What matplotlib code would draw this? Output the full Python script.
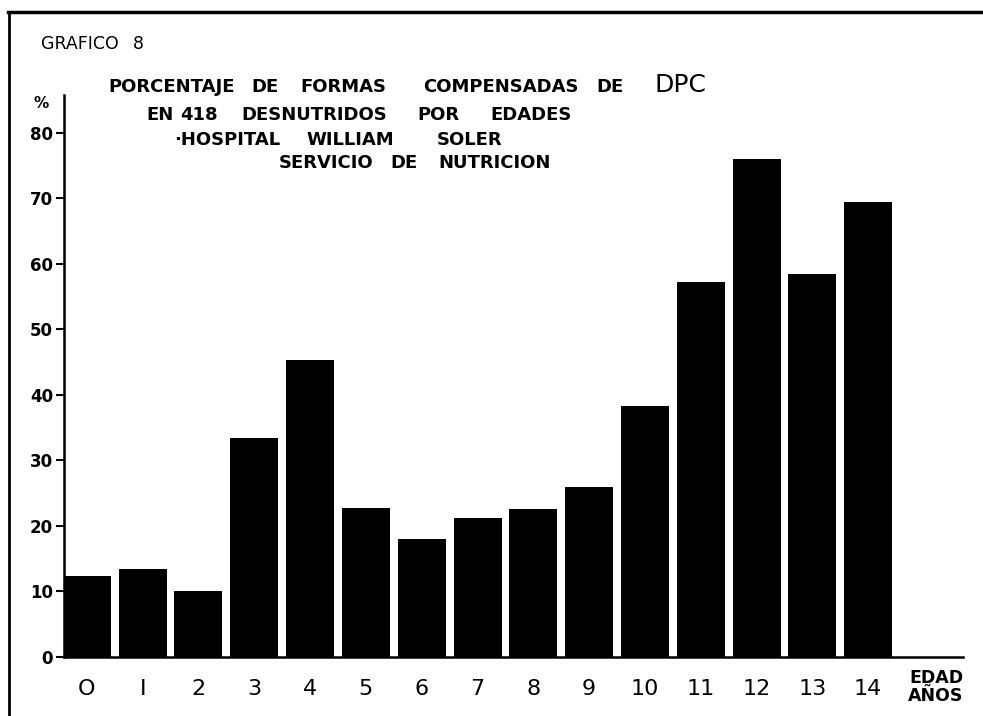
import matplotlib.pyplot as plt
from matplotlib.lines import Line2D

# Edades (años) y porcentaje de formas compensadas
edades = ['O', 'I', '2', '3', '4', '5', '6', '7', '8', '9', '10', '11', '12', '13', '14']
porcentaje = [12.3, 13.5, 10.0, 33.5, 45.4, 22.7, 18.0, 21.2, 22.6, 26.0,
              38.3, 57.3, 76.0, 58.5, 69.4]
yticks = [0, 10, 20, 30, 40, 50, 60, 70, 80]

# lineas del titulo: (palabra, centro x en px)
linea1 = [('PORCENTAJE', 172), ('DE', 265), ('FORMAS', 343), ('COMPENSADAS', 501), ('DE', 610)]
linea2 = [('EN', 160), ('418', 199), ('DESNUTRIDOS', 314), ('POR', 438), ('EDADES', 531)]
linea3 = [('·HOSPITAL', 227), ('WILLIAM', 350), ('SOLER', 470)]
linea4 = [('SERVICIO', 326), ('DE', 404), ('NUTRICION', 495)]

W, H = 983, 716
fig = plt.figure(figsize=(W / 100, H / 100), dpi=100)
ax = fig.add_axes([64 / W, 59 / H, (963 - 64) / W, 562 / H])

x = list(range(len(edades)))
ax.bar(x, porcentaje, width=0.86, color='black')

ax.set_xlim(-0.41, 15.7)
ax.set_ylim(0, 85.8)
ax.set_yticks(yticks)
ax.set_yticklabels([str(v) for v in yticks], fontsize=12, fontweight='bold')
ax.set_xticks(x)
ax.set_xticklabels(edades, fontsize=16)
ax.tick_params(axis='x', length=0, pad=16)
ax.tick_params(axis='y', length=6, width=1.5, pad=2)

for s in ['top', 'right']:
    ax.spines[s].set_visible(False)
ax.spines['left'].set_linewidth(1.8)
ax.spines['bottom'].set_linewidth(1.8)

# texto de la lámina
def px(xp, yp):
    return xp / W, 1 - yp / H

fig.text(*px(80, 44), 'GRAFICO', fontsize=12.5, va='center', ha='center')
fig.text(*px(138, 44), '8', fontsize=12.5, va='center', ha='center')
fig.text(*px(41, 103), '%', fontsize=11, fontweight='bold', va='center', ha='center')
for linea, yp in [(linea1, 87), (linea2, 115), (linea3, 140), (linea4, 163)]:
    for palabra, xp in linea:
        fig.text(*px(xp, yp), palabra, fontsize=13, fontweight='bold',
                 ha='center', va='center')
fig.text(*px(680, 85), 'DPC', fontsize=18, ha='center', va='center')
fig.text(*px(936, 687), 'EDAD\nAÑOS', fontsize=12.5, fontweight='bold',
         ha='center', va='center', linespacing=1.0)

# marco de la lámina
fig.add_artist(Line2D([8 / W, 1.0], [1 - 12 / H, 1 - 12 / H],
                      transform=fig.transFigure, color='black', lw=2.5))
fig.add_artist(Line2D([9 / W, 9 / W], [0, 1 - 12 / H],
                      transform=fig.transFigure, color='black', lw=2))

fig.savefig('out.png', dpi=100, facecolor='white')
